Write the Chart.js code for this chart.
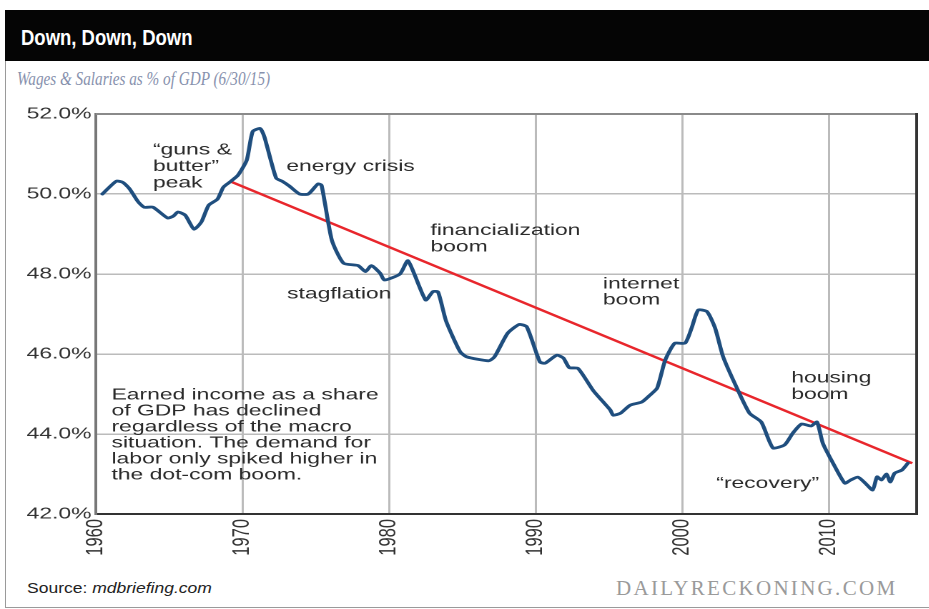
<!DOCTYPE html>
<html>
<head>
<meta charset="utf-8">
<title>Down, Down, Down</title>
<script src="https://cdn.jsdelivr.net/npm/chart.js@4.4.0/dist/chart.umd.min.js"></script>
<style>
  html, body { margin: 0; padding: 0; background: #fff; overflow: hidden; }
  #page { position: relative; width: 929px; height: 609px; }
  #frame { position: absolute; left: 5px; top: 10px; width: 940px; height: 598px; border: 1.5px solid #9a9a9a; box-sizing: border-box; }
  #bar { position: absolute; left: 5px; top: 10px; width: 924px; height: 51px; background: #050505; }
  #title { position: absolute; left: 21px; top: 25px; color: #fff; font: bold 22px "Liberation Sans", Arial, sans-serif;
           white-space: nowrap; transform: scaleX(0.84); transform-origin: left top; }
  #subtitle { position: absolute; left: 17px; top: 68px; color: #8791ad; font: italic 19.5px "Liberation Serif", "Times New Roman", serif;
              white-space: nowrap; transform: scaleX(0.78); transform-origin: left top; }
  /* the chart picture is stretched sideways, as in the original */
  #wrap { position: absolute; left: 10px; top: 95px; width: 640px; height: 474px; transform: scaleX(1.43); transform-origin: left top; }
  #source { position: absolute; left: 27px; top: 580px; color: #222; font: 14px "Liberation Sans", Arial, sans-serif;
            white-space: nowrap; transform: scaleX(1.25); transform-origin: left top; }
  #source i { font-style: italic; }
  #brand { position: absolute; left: 616px; top: 576px; color: #9a9a9a; font: 21px "Liberation Serif", "Times New Roman", serif;
           letter-spacing: 2.3px; white-space: nowrap; }
</style>
</head>
<body>
<div id="page">
  <div id="frame"></div>
  <div id="bar"></div>
  <div id="title">Down, Down, Down</div>
  <div id="subtitle">Wages &amp; Salaries as % of GDP (6/30/15)</div>
  <div id="wrap"><canvas id="chart"></canvas></div>
  <div id="source">Source: <i>mdbriefing.com</i></div>
  <div id="brand">DAILYRECKONING.COM</div>
</div>
<script>
// wages & salaries as % of GDP
const years = [
  1960.45, 1961.4, 1961.85, 1962.3, 1962.9, 1963.3, 1963.9, 1964.9, 1965.3, 1965.6,
  1966.1, 1966.7, 1967.2, 1967.7, 1968.3, 1968.7, 1969.15, 1969.7, 1970.3, 1970.7,
  1971.2, 1971.5, 1972.3, 1972.75, 1973.2, 1973.9, 1974.5, 1975.15, 1975.4, 1976.1,
  1976.9, 1977.9, 1978.4, 1978.8, 1979.4, 1979.7, 1980.75, 1981.3, 1982.5, 1983.0,
  1983.35, 1983.9, 1984.85, 1985.3, 1986.8, 1987.2, 1988.1, 1988.9, 1989.4, 1990.3,
  1990.65, 1991.45, 1991.9, 1992.3, 1992.9, 1993.95, 1995.1, 1995.3, 1995.8, 1996.45,
  1997.25, 1997.8, 1998.3, 1998.85, 1999.5, 2000.2, 2000.65, 2001.1, 2001.7, 2002.25,
  2002.8, 2003.7, 2004.6, 2005.4, 2006.2, 2007.0, 2007.55, 2008.15, 2008.8, 2009.2,
  2009.6, 2010.3, 2011.1, 2011.5, 2012.0, 2012.5, 2013.0, 2013.3, 2013.6, 2013.95,
  2014.2, 2014.5, 2015.0, 2015.4
];
const shares = [
  50.00, 50.32, 50.29, 50.13, 49.80, 49.67, 49.67, 49.40, 49.45, 49.55,
  49.47, 49.12, 49.30, 49.72, 49.87, 50.17, 50.30, 50.47, 50.85, 51.56,
  51.64, 51.43, 50.40, 50.31, 50.20, 50.00, 50.00, 50.25, 50.22, 48.85,
  48.27, 48.21, 48.06, 48.21, 48.02, 47.85, 48.00, 48.33, 47.35, 47.56,
  47.55, 46.82, 46.06, 45.93, 45.83, 45.93, 46.52, 46.74, 46.68, 45.80,
  45.77, 45.97, 45.90, 45.66, 45.64, 45.08, 44.60, 44.47, 44.52, 44.72,
  44.80, 44.97, 45.15, 45.85, 46.27, 46.27, 46.65, 47.10, 47.06, 46.65,
  45.93, 45.18, 44.52, 44.30, 43.65, 43.73, 44.02, 44.25, 44.20, 44.30,
  43.77, 43.27, 42.77, 42.85, 42.92, 42.77, 42.60, 42.93, 42.85, 43.00,
  42.80, 43.02, 43.10, 43.27
];
// red trend line, end points
const trendYears = [1969.15, 2015.7];
const trendShares = [50.32, 43.27];

const xTicks = [1960, 1970, 1980, 1990, 2000, 2010];
const yTicks = [42, 44, 46, 48, 50, 52];

// text notes on the plot (year, share of the first line)
const notes = [
  { year: 1963.9, value: 51.1, size: 16, gap: 16.5, lines: ['“guns &', 'butter”', 'peak'] },
  { year: 1973.0, value: 50.68, size: 16, gap: 16, lines: ['energy crisis'] },
  { year: 1982.83, value: 49.08, size: 16, gap: 16.5, lines: ['financialization', 'boom'] },
  { year: 1973.05, value: 47.5, size: 16, gap: 16, lines: ['stagflation'] },
  { year: 1994.6, value: 47.75, size: 16, gap: 16, lines: ['internet', 'boom'] },
  { year: 2007.45, value: 45.4, size: 16, gap: 16.5, lines: ['housing', 'boom'] },
  { year: 2002.33, value: 42.76, size: 16, gap: 16, lines: ['“recovery”'] },
  { year: 1961.07, value: 44.97, size: 16, gap: 16, lines: [
      'Earned income as a share',
      'of GDP has declined',
      'regardless of the macro',
      'situation. The demand for',
      'labor only spiked higher in',
      'the dot-com boom.'] }
];

const FONT = '"Liberation Sans", Arial, sans-serif';

const plotFrame = {
    id: 'plotFrame',
    beforeDatasetsDraw(chart) {
        const { ctx, chartArea: { left, right, top, bottom } } = chart;
        ctx.save();
        ctx.lineWidth = 2;
        ctx.strokeStyle = '#8a8a8a';
        ctx.beginPath();
        ctx.moveTo(left, top);
        ctx.lineTo(right, top);
        ctx.stroke();
        ctx.strokeStyle = '#333';
        ctx.beginPath();
        ctx.moveTo(right, top - 1);
        ctx.lineTo(right, bottom);
        ctx.stroke();
        ctx.restore();
    }
};

const annotate = {
    id: 'annotate',
    afterDatasetsDraw(chart) {
        const { ctx, scales: { x, y } } = chart;
        ctx.save();
        ctx.fillStyle = '#2a2a2a';
        ctx.textBaseline = 'middle';
        ctx.textAlign = 'left';
        notes.forEach((n) => {
            ctx.font = n.size + 'px ' + FONT;
            const left = x.getPixelForValue(n.year);
            const top = y.getPixelForValue(n.value);
            n.lines.forEach((t, i) => ctx.fillText(t, left, top + i * n.gap));
        });
        ctx.restore();
    }
};

const config = {
    type: 'line',
    data: {
        datasets: [
            {
                label: 'Wages & Salaries as % of GDP',
                data: years.map((yr, i) => ({ x: yr, y: shares[i] })),
                borderColor: '#1f4e7e',
                borderWidth: 2.8,
                pointRadius: 0,
                tension: 0.2,
                borderJoinStyle: 'round',
                borderCapStyle: 'round'
            },
            {
                label: 'Trend',
                data: trendYears.map((yr, i) => ({ x: yr, y: trendShares[i] })),
                borderColor: '#e8262c',
                borderWidth: 2.3,
                pointRadius: 0
            }
        ]
    },
    options: {
        responsive: true,
        maintainAspectRatio: false,
        animation: false,
        devicePixelRatio: 2,
        layout: { padding: { left: 0, top: 19, right: 6, bottom: 0 } },
        plugins: {
            legend: { display: false },
            tooltip: { enabled: false }
        },
        scales: {
            x: {
                type: 'linear',
                min: 1960,
                max: 2016,
                afterBuildTicks: (scale) => { scale.ticks = xTicks.map((v) => ({ value: v })); },
                afterFit: (scale) => { scale.height = 55; },
                border: { color: '#333', width: 2 },
                grid: { color: '#bbbbbb', lineWidth: 1.5, drawTicks: false },
                ticks: {
                    minRotation: 90,
                    maxRotation: 90,
                    padding: 5,
                    color: '#333',
                    font: { family: FONT, size: 16.5 },
                    callback: (v) => String(v)
                }
            },
            y: {
                min: 42,
                max: 52,
                afterBuildTicks: (scale) => { scale.ticks = yTicks.map((v) => ({ value: v })); },
                afterFit: (scale) => { scale.width = 60; },
                border: { color: '#777', width: 2 },
                grid: { color: '#bbbbbb', lineWidth: 1.5, drawTicks: false },
                ticks: {
                    padding: 3,
                    color: '#333',
                    font: { family: FONT, size: 16 },
                    callback: (v) => v.toFixed(1) + '%'
                }
            }
        }
    },
    plugins: [plotFrame, annotate]
};

new Chart(document.getElementById('chart'), config);
</script>
</body>
</html>
